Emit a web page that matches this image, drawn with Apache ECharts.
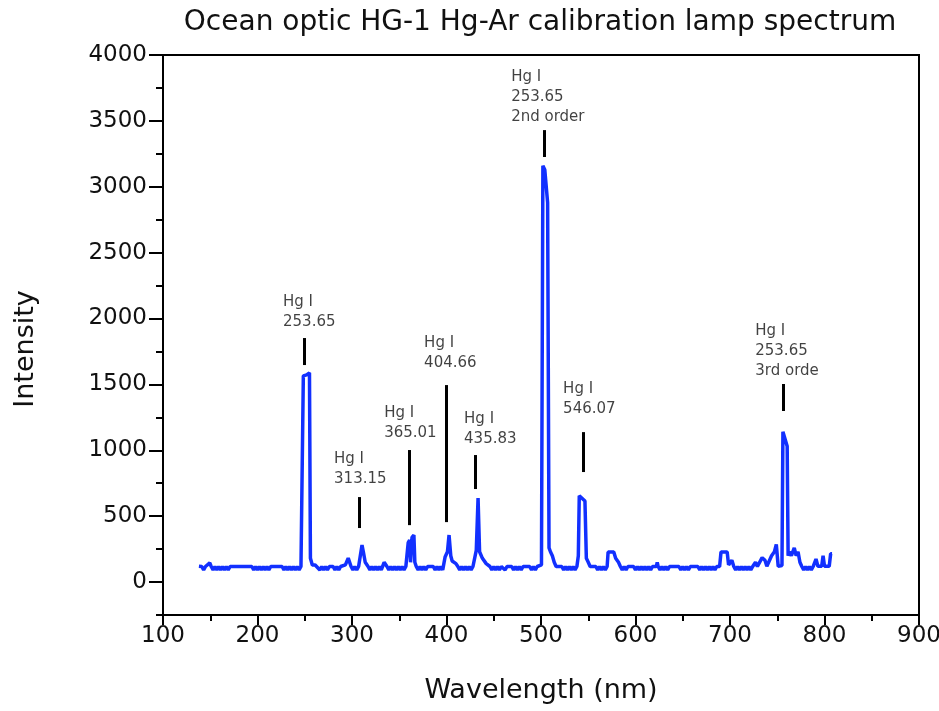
<!DOCTYPE html>
<html>
<head>
<meta charset="utf-8">
<script src="https://cdn.jsdelivr.net/npm/echarts@6/dist/echarts.min.js"></script>
<style>html,body{margin:0;padding:0;background:#fff}#c{width:939px;height:711px}</style>
</head>
<body>
<div id="c"></div>
<script>
// ---- Data ----
const wavelength = [
138,141,143,145,147,149.5,151,153,155,157,159,161,163,165,167,169,171,173,185,194,
196,198,200,202,204,206,208,210,212,214,216,226,228,230,232,234,236,238,240,242,
244,246,247.5,248.5,252,255,256,258,261,263,266,268,270,272,274,276,278,280,282,284,
286,288,290,293,296,299,301,303,305,307,309,310.6,312,314,317,319,321,323,325,327,
329,331,334,337,339,341,343,345,347,349,351,353,355,357,358.5,359.5,361,362,363.5,365.5,
366.5,368,370,372,374,376,378,380,382,386,388,390,392,394,396,398.5,401,402.7,404.5,406,
410,412,414,416,418,420,422,424,426,428,430,431.5,433.4,435,438,442,446,448,450,452,
454,456,458,460,462,464,469,471,473,475,477,479,481,483,488,490,492,494,496,498,
500.5,502,504,507,508.5,510,512,514,516,518,522,524,526,528,530,532,534,536,538,539.5,
540.5,542,546.5,548,550,552,554,558,560,562,564,566,568,570,571,577,579,582,584,586,
588,590,592,594,598,600,602,604,606,608,610,612,614,616,618,620,622,623,624,626,
628,630,632,634,636,640,646,648,650,652,654,656,658,662,666,668,670,672,674,676,
678,680,682,684,686,689,690.5,697,698.5,700,702,704,706,708,710,712,714,716,718,720,
722,724,727,729,731,734,737,739,741,744,747,749,751,753,755,756,760.5,761.5,763,765,
768,770,772,774,776,778,780,782,784,786,788,790,791,793,797,798.5,800,805,806.5,808
];
const intensity = [
120,118,92,118,118,145,118,92,118,92,118,92,118,92,118,92,118,118,118,118,
92,118,92,118,92,118,92,118,92,118,118,118,92,118,92,118,92,118,92,118,
92,118,125,1565,1572,1588,180,130,130,118,92,118,92,118,92,118,118,118,92,118,
92,118,118,130,182,118,92,118,92,118,125,281,230,150,118,92,118,92,118,92,
118,92,150,118,92,118,92,118,92,118,92,118,92,118,130,300,319,150,340,357,
150,118,92,118,92,118,92,118,118,118,92,118,92,118,92,190,230,357,200,160,
140,118,92,118,92,118,92,118,92,118,130,240,637,230,180,140,118,92,118,92,
118,92,118,118,92,118,118,92,118,92,118,92,118,118,118,92,118,92,118,118,
130,3160,3130,2880,260,230,200,150,118,118,118,92,118,92,118,92,118,92,118,200,
655,660,615,180,150,118,118,118,92,118,92,118,92,118,228,228,180,150,118,92,
118,92,118,118,118,92,118,92,118,92,118,92,118,92,118,118,118,150,118,92,
118,92,118,92,118,118,118,92,118,92,118,92,118,118,118,92,118,92,118,92,
118,92,118,92,118,118,228,228,130,118,165,118,92,118,92,118,92,118,92,118,
92,118,150,118,118,185,165,120,118,200,230,285,120,118,125,1140,1030,200,230,200,
260,200,230,150,118,92,118,92,118,92,118,118,175,120,120,200,120,120,215,215
];
const xTicks = [100,200,300,400,500,600,700,800,900];
const yTicks = [0,500,1000,1500,2000,2500,3000,3500,4000];
const annoText = ['Hg I\n253.65','Hg I\n313.15','Hg I\n365.01','Hg I\n404.66','Hg I\n435.83','Hg I\n253.65\n2nd order','Hg I\n546.07','Hg I\n253.65\n3rd orde'];
const annoTextX = [227, 281, 334, 376.3, 418.6, 468.4, 523.4, 726.7];
const annoTextY = [1935, 744, 1093, 1624, 1047, 3491, 1275, 1563];
const annoLineX = [249.3, 307.5, 360.4, 399.6, 430.3, 503.3, 544.6, 756.3];
const annoLineTop = [1852, 645, 1002, 1495, 964, 3430, 1138, 1503];
const annoLineBottom = [1647, 410, 432, 455, 706, 3226, 835, 1298];

// ---- Chart ----
const FONT = 'DejaVu Sans';
const chart = echarts.init(document.getElementById('c'), null, {renderer: 'canvas'});
const spectrum = wavelength.map((w, i) => [w, intensity[i]]);
const labelData = annoText.map((t, i) => ({value: [annoTextX[i], annoTextY[i]], name: t}));
const lineData = annoLineX.map((x, i) => [{coord: [x, annoLineTop[i]]}, {coord: [x, annoLineBottom[i]]}]);

chart.setOption({
  animation: false,
  backgroundColor: '#fff',
  title: {
    text: 'Ocean optic HG-1 Hg-Ar calibration lamp spectrum',
    left: 535, top: 4, textAlign: 'center',
    textStyle: {fontFamily: FONT, fontSize: 28, fontWeight: 'normal', color: '#111'}
  },
  grid: {left: 163, right: 20, top: 55, bottom: 96, show: true, borderColor: '#000', borderWidth: 2,
    containLabel: false, outerBoundsMode: 'none'},
  xAxis: {
    type: 'value', min: 100, max: 900, interval: 100,
    name: 'Wavelength (nm)', nameLocation: 'middle', nameGap: 62,
    nameTextStyle: {fontFamily: FONT, fontSize: 27, color: '#111'},
    axisLine: {show: true, onZero: false, lineStyle: {color: '#000', width: 2}},
    axisTick: {show: true, length: 10, lineStyle: {color: '#000', width: 2}},
    minorTick: {show: true, splitNumber: 2, length: 6, lineStyle: {color: '#000', width: 2}},
    splitLine: {show: false},
    axisLabel: {fontFamily: FONT, fontSize: 23, color: '#111', margin: 10,
      customValues: xTicks, formatter: v => String(v), hideOverlap: false}
  },
  yAxis: [{
    type: 'value', min: -250, max: 4000, interval: 250, position: 'left',
    name: 'Intensity', nameLocation: 'middle', nameGap: 124, nameRotate: 90,
    nameTextStyle: {fontFamily: FONT, fontSize: 27, color: '#111', padding: [0, 28, 0, 0]},
    axisLine: {show: true, onZero: false, lineStyle: {color: '#000', width: 2}},
    axisTick: {show: true, length: 7, lineStyle: {color: '#000', width: 2}},
    splitLine: {show: false},
    axisLabel: {fontFamily: FONT, fontSize: 23, color: '#111', margin: 16, customValues: yTicks,
      formatter: v => String(v)}
  }, {
    type: 'value', min: -250, max: 4000, interval: 250, position: 'left', offset: 0,
    axisLine: {show: false, onZero: false},
    axisTick: {show: true, length: 14, lineStyle: {color: '#000', width: 2}, customValues: yTicks},
    axisLabel: {show: false},
    splitLine: {show: false}
  }],
  series: [{
    type: 'line', data: spectrum, showSymbol: false, symbol: 'none',
    lineStyle: {color: '#1230ff', width: 3.5}, z: 3,
    markLine: {
      silent: true, symbol: ['none', 'none'],
      lineStyle: {color: '#000', width: 3, type: 'solid'},
      label: {show: false},
      data: lineData
    }
  }, {
    type: 'scatter', data: labelData, symbolSize: 0, silent: true,
    label: {
      show: true, position: [0, 0], align: 'left', verticalAlign: 'bottom',
      offset: [0, 5],
      formatter: p => p.name,
      fontFamily: FONT, fontSize: 15, lineHeight: 20, color: '#111'
    }
  }]
});
</script>
</body>
</html>
